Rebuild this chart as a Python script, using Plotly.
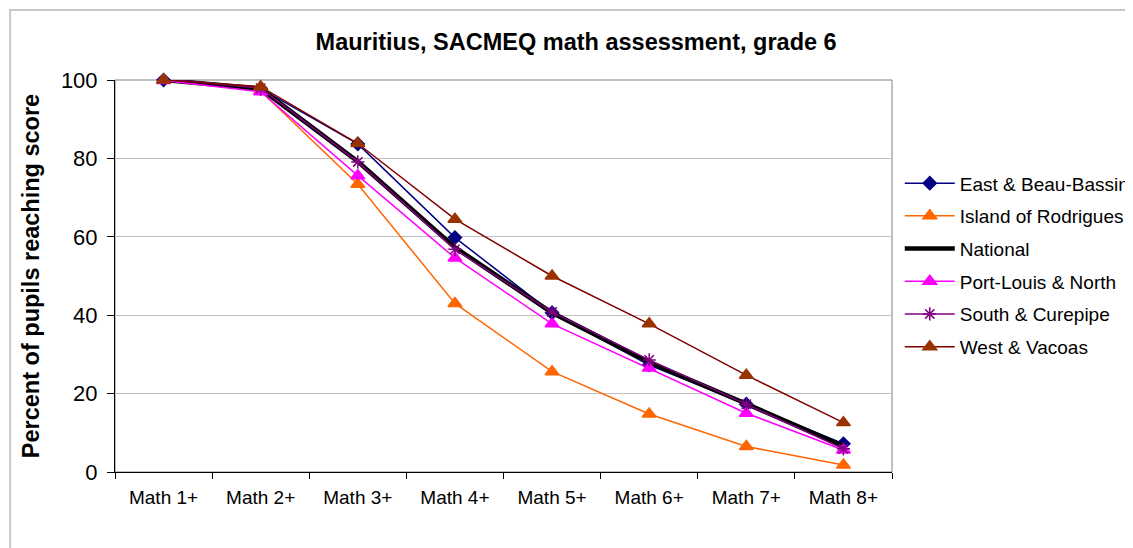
import plotly.graph_objects as go

# Data
levels = ["Math 1+", "Math 2+", "Math 3+", "Math 4+", "Math 5+", "Math 6+", "Math 7+", "Math 8+"]

east = [100.0, 97.8, 83.7, 59.8, 40.6, 27.3, 17.3, 7.2]
rodrigues = [100.0, 97.2, 73.4, 43.0, 25.6, 14.8, 6.5, 1.8]
national = [100.0, 97.8, 79.2, 57.3, 40.6, 28.0, 17.4, 6.6]
port_louis = [99.9, 97.0, 75.6, 54.6, 37.8, 26.5, 15.0, 5.6]
south = [100.3, 97.9, 79.1, 56.8, 40.8, 28.6, 17.3, 5.9]
west = [100.0, 98.3, 83.8, 64.5, 50.0, 37.8, 24.7, 12.6]

font = "Liberation Sans, Arial, sans-serif"

series = [
    ("East & Beau-Bassin", east, "#000080", "#000080", 1.5, "diamond", 10),
    ("Island of Rodrigues", rodrigues, "#FF6600", "#FF6600", 1.5, "triangle-up", 12),
    ("National", national, "#000000", None, 4.5, None, 0),
    ("Port-Louis & North", port_louis, "#FF00FF", "#FF00FF", 1.5, "triangle-up", 12),
    ("South & Curepipe", south, "#800080", "#800080", 1.5, "asterisk-open", 11),
    ("West & Vacoas", west, "#800000", "#993300", 1.5, "triangle-up", 12),
]

fig = go.Figure()
for name, vals, lc, mc, lw, sym, ms in series:
    if sym is None:
        fig.add_trace(go.Scatter(x=levels, y=vals, name=name, mode="lines",
                                 line=dict(color=lc, width=lw), legendgroup=name,
                                 cliponaxis=False))
    else:
        fig.add_trace(go.Scatter(x=levels, y=vals, name=name, mode="lines+markers",
                                 line=dict(color=lc, width=lw),
                                 marker=dict(symbol=sym, size=ms, color=mc,
                                             line=dict(color=mc, width=1.5)),
                                 legendgroup=name, cliponaxis=False))

# outer chart frame and plot-area border
fig.add_shape(type="rect", xref="paper", yref="paper", x0=-0.135, x1=1.6, y0=-0.3, y1=1.1786,
              line=dict(color="#c8c8c8", width=2), layer="below")
fig.add_shape(type="rect", xref="paper", yref="paper", x0=0, x1=1, y0=0, y1=1,
              line=dict(color="#808080", width=1), layer="below")

fig.update_layout(
    width=1125, height=540,
    margin=dict(l=107, r=241, t=72, b=76, autoexpand=False),
    paper_bgcolor="white", plot_bgcolor="white",
    font=dict(family=font, color="black"),
    title=dict(text="<b>Mauritius, SACMEQ math assessment, grade 6</b>",
               x=0.505, xanchor="center", y=1 - 34 / 540, yanchor="middle",
               font=dict(size=23.5)),
    showlegend=True,
    legend=dict(x=1.01, xanchor="left", y=0.785, yanchor="top", font=dict(size=19),
                tracegroupgap=5, bgcolor="rgba(0,0,0,0)", itemwidth=50),
    xaxis=dict(type="category", range=[-0.5, 7.5], tickson="boundaries", ticks="outside",
               ticklen=6, tickcolor="black", showline=True, linecolor="black", linewidth=1,
               showgrid=False, tickfont=dict(size=19), ticklabelstandoff=8),
    yaxis=dict(range=[0, 100], dtick=20, ticks="outside", ticklen=7, tickcolor="black",
               showline=True, linecolor="black", linewidth=1, showgrid=True,
               gridcolor="#c0c0c0", zeroline=False, tickfont=dict(size=22),
               ticklabelstandoff=5,
               title=dict(text="<b>Percent of pupils reaching score</b>", font=dict(size=23.5),
                          standoff=14)),
)

fig.write_html("out.html")
